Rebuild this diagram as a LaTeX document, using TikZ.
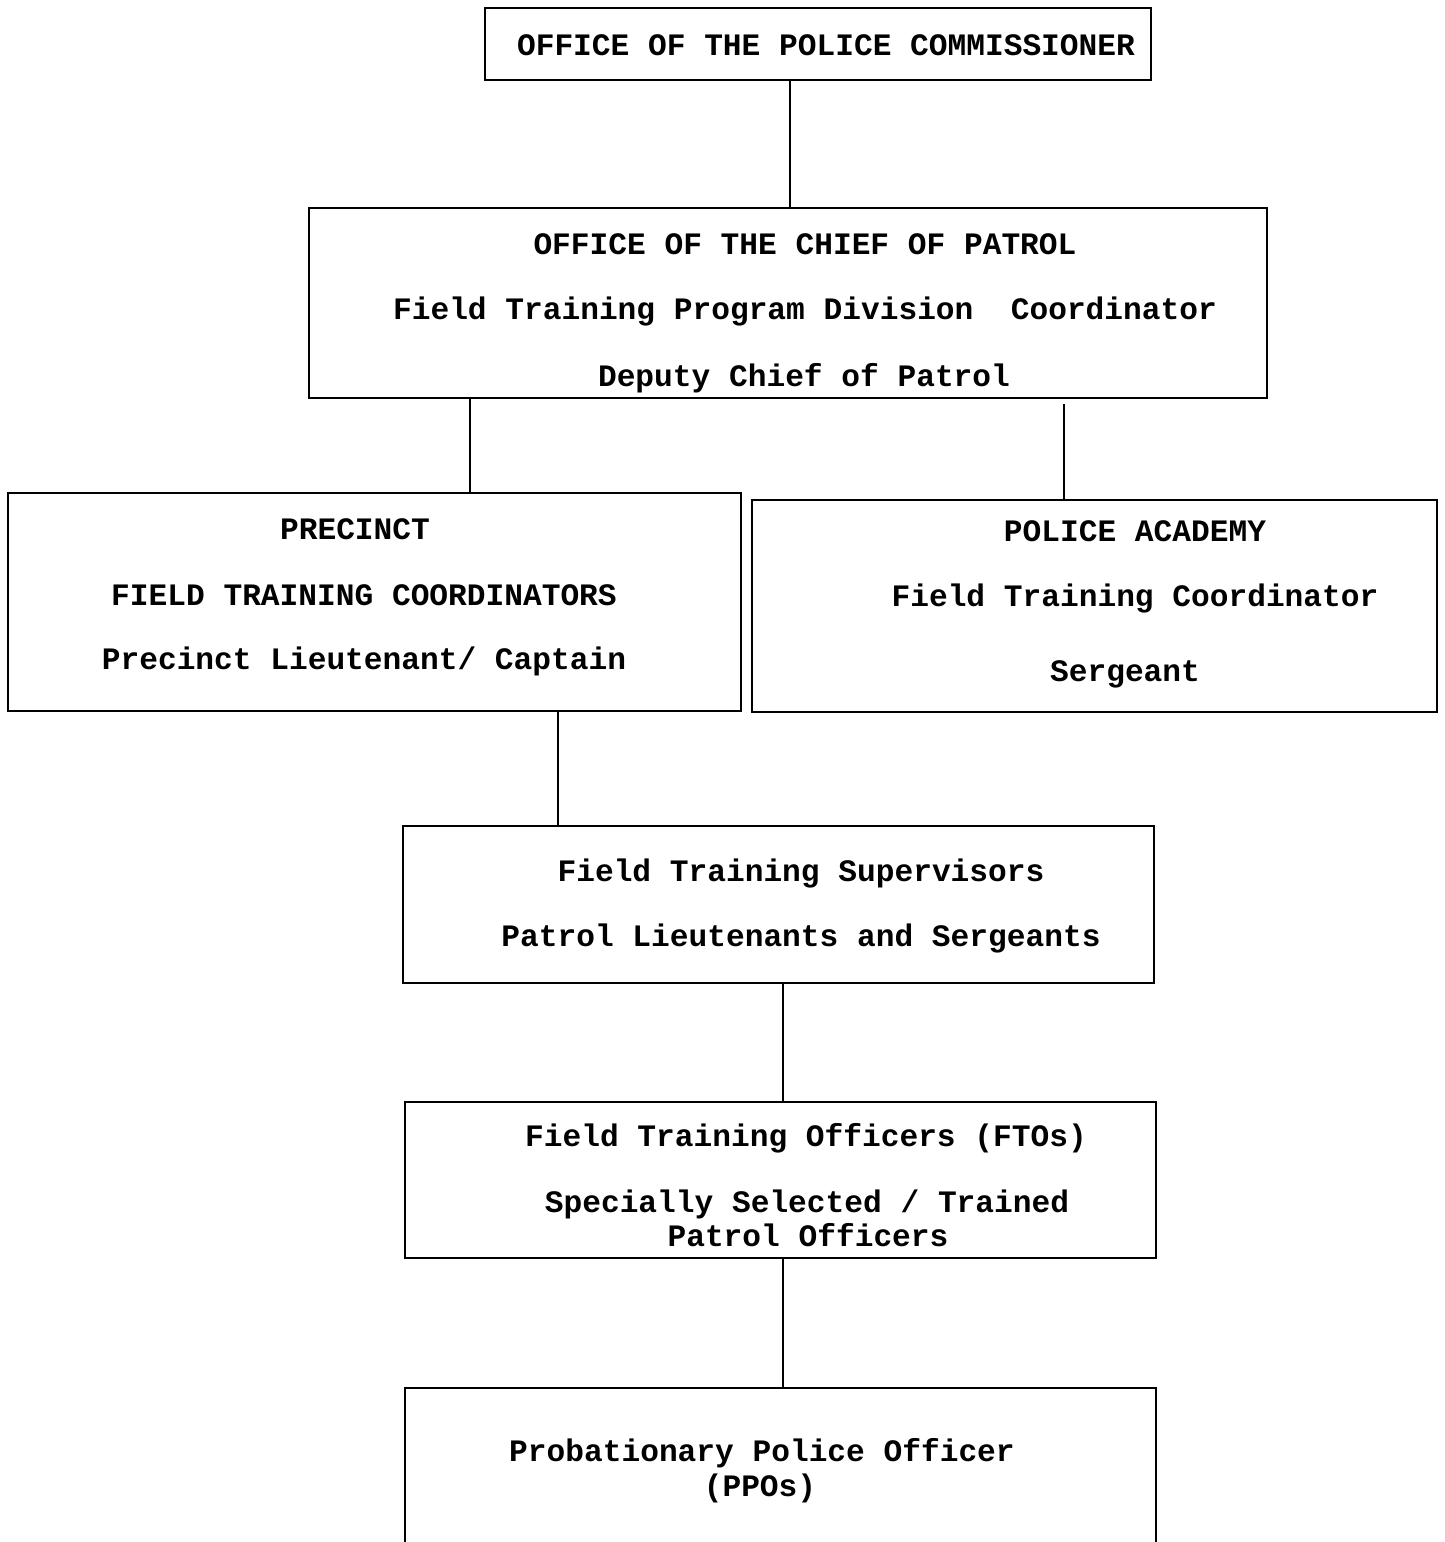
\documentclass[tikz,border=0pt]{standalone}
\usepackage{fontspec}
\setmonofont{Liberation Mono}
\newfontfamily\chartfont{Liberation Mono}
\begin{document}
\begin{tikzpicture}[x=0.5pt,y=-0.5pt,
  orgbox/.style={draw=black, line width=1.3pt, rectangle, inner sep=0pt},
  lbl/.style={anchor=base, inner sep=0pt, font=\chartfont\bfseries\fontsize{15.6pt}{18pt}\selectfont},
  link/.style={draw=black, line width=1.3pt}]
\clip (0,0) rectangle (1445,1542);
\fill[white] (0,0) rectangle (1445,1542);
% boxes
\node[orgbox, minimum width=333pt, minimum height=36pt] (com) at (818,44) {};
\node[orgbox, minimum width=479pt, minimum height=95pt] (chief) at (788,303) {};
\node[orgbox, minimum width=366.5pt, minimum height=109pt] (prec) at (374.5,602) {};
\node[orgbox, minimum width=342.5pt, minimum height=106pt] (acad) at (1094.5,606) {};
\node[orgbox, minimum width=375.5pt, minimum height=78.5pt] (sup) at (778.5,904.5) {};
\node[orgbox, minimum width=375.5pt, minimum height=78pt] (fto) at (780.5,1180) {};
\node[orgbox, minimum width=375.5pt, minimum height=100pt] (ppo) at (780.5,1488) {};
% texts
\node[lbl] (t1) at (826,55) {OFFICE OF THE POLICE COMMISSIONER};
\node[lbl] (t2) at (805,254) {OFFICE OF THE CHIEF OF PATROL};
\node[lbl] (t3) at (805,319) {Field Training Program Division\ \ Coordinator};
\node[lbl] (t4) at (804,386) {Deputy Chief of Patrol};
\node[lbl] (t5) at (355,539) {PRECINCT};
\node[lbl] (t6) at (364,605) {FIELD TRAINING COORDINATORS};
\node[lbl] (t7) at (364,669) {Precinct Lieutenant/ Captain};
\node[lbl] (t8) at (1135,541) {POLICE ACADEMY};
\node[lbl] (t9) at (1135,606) {Field Training Coordinator};
\node[lbl] (t10) at (1125,681) {Sergeant};
\node[lbl] (t11) at (801,881) {Field Training Supervisors};
\node[lbl] (t12) at (801,946) {Patrol Lieutenants and Sergeants};
\node[lbl] (t13) at (806,1146) {Field Training Officers (FTOs)};
\node[lbl] (t14) at (807,1212) {Specially Selected / Trained};
\node[lbl] (t15) at (808,1246) {Patrol Officers};
\node[lbl] (t16) at (762,1461) {Probationary Police Officer};
\node[lbl] (t17) at (760,1496) {(PPOs)};
% connector columns
\coordinate (c1) at (790,0);
\coordinate (c2) at (470,0);
\coordinate (c3) at (1064,0);
\coordinate (c4) at (558,0);
\coordinate (c5) at (783,0);
\draw[link] (com.south -| c1) -- (chief.north -| c1);
\draw[link] (chief.south -| c2) -- (prec.north -| c2);
\draw[link] ([yshift=-2.5pt]chief.south -| c3) -- (acad.north -| c3);
\draw[link] (prec.south -| c4) -- (sup.north -| c4);
\draw[link] (sup.south -| c5) -- (fto.north -| c5);
\draw[link] (fto.south -| c5) -- (ppo.north -| c5);
\end{tikzpicture}
\end{document}
